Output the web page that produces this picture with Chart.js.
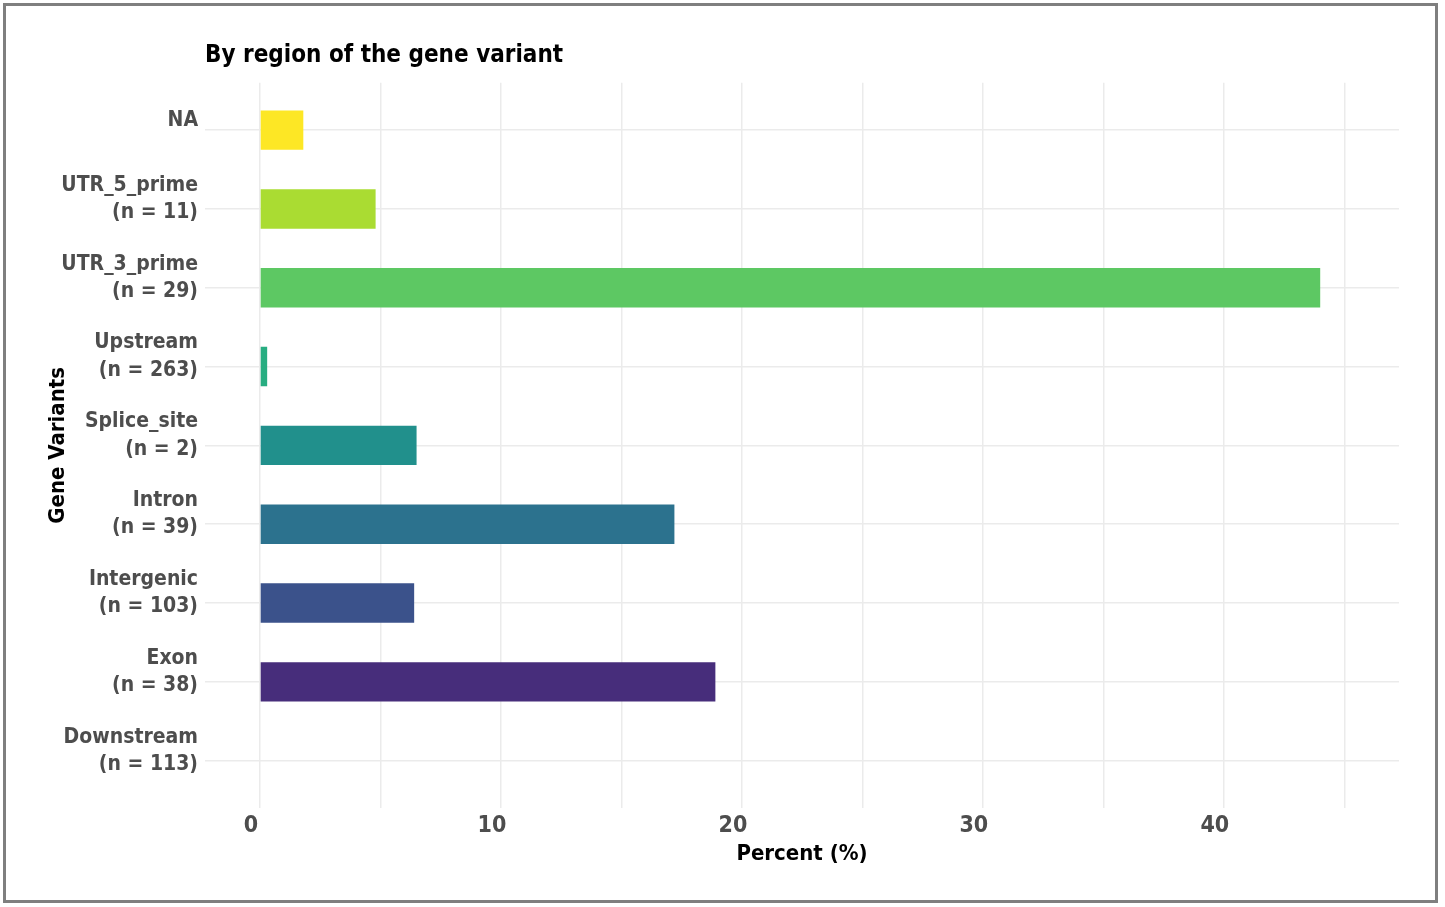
<!DOCTYPE html>
<html>
<head>
<meta charset="utf-8">
<script src="https://cdn.jsdelivr.net/npm/chart.js@4.4.0/dist/chart.umd.min.js"></script>
<style>
  html, body { margin: 0; padding: 0; background: #fff; }
  #frame {
    position: absolute; left: 3px; top: 3px;
    width: 1429px; height: 894px;
    border: 3px solid #7f7f7f;
  }
  canvas { display: block; }
</style>
</head>
<body>
<div id="frame"><canvas id="regionChart" width="1429" height="894"></canvas></div>
<script>
// Gene variant regions, top to bottom as drawn
const regions = ["NA", "UTR_5_prime", "UTR_3_prime", "Upstream", "Splice_site", "Intron", "Intergenic", "Exon", "Downstream"];
const counts = [null, 11, 29, 263, 2, 39, 103, 38, 113];
// Percent of variants per region
const percents = [1.8, 4.8, 44.0, 0.3, 6.5, 17.2, 6.4, 18.9, 0];
// viridis palette, one per region
const barColors = ["#FDE725", "#AADC32", "#5DC863", "#27AD81", "#21908C", "#2C728E", "#3B528B", "#472D7B", "#440154"];
// x grid positions (labels only on multiples of 10)
const xTicks = [0, 5, 10, 15, 20, 25, 30, 35, 40, 45];

const fontName = "'Liberation Sans Narrow', 'DejaVu Sans Condensed', 'Liberation Sans', sans-serif";

// labels like "Intron\n(n = 39)"
const yLabels = regions.map((r, i) => counts[i] === null ? r : [r, "(n = " + counts[i] + ")"]);

const ctx = document.getElementById("regionChart").getContext("2d");
const regionChart = new Chart(ctx, {
    type: "bar",
    data: {
        datasets: [{
            data: percents.map((v, i) => ({ x: v, y: i })),
            backgroundColor: barColors,
            borderWidth: 0,
            barPercentage: 0.5,
            categoryPercentage: 1.0,
        }],
    },
    options: {
        indexAxis: "y",
        responsive: false,
        animation: false,
        layout: { padding: { left: 0, right: 36, top: 0, bottom: 12 } },
        plugins: {
            legend: { display: false },
            tooltip: { enabled: false },
            title: {
                display: true,
                text: "By region of the gene variant",
                align: "start",
                fullSize: false,
                color: "#000",
                font: { family: fontName, size: 24, weight: "bold" },
                padding: { top: 35, bottom: 13 },
            },
        },
        scales: {
            x: {
                type: "linear",
                min: -2.28,
                max: 47.27,
                afterBuildTicks: (scale) => { scale.ticks = xTicks.map(v => ({ value: v })); },
                afterFit: (scale) => { scale.height = 80; },
                border: { display: false },
                grid: { color: "#ebebeb", lineWidth: 1.5, drawTicks: false },
                ticks: {
                    color: "#4d4d4d",
                    padding: 4,
                    labelOffset: -9,
                    maxRotation: 0,
                    autoSkip: false,
                    font: { family: fontName, size: 23, weight: "bold" },
                    callback: (v) => (v % 10 === 0 ? String(v) : ""),
                },
                title: {
                    display: true,
                    text: "Percent (%)",
                    color: "#000",
                    font: { family: fontName, size: 22, weight: "bold" },
                    padding: { top: 0, bottom: 21 },
                },
            },
            y: {
                type: "linear",
                reverse: true,
                offset: false,
                min: -0.6,
                max: regions.length - 1 + 0.6,
                afterBuildTicks: (scale) => { scale.ticks = regions.map((r, i) => ({ value: i })); },
                afterFit: (scale) => { scale.width = 199; },
                border: { display: false },
                grid: { color: "#ebebeb", lineWidth: 1.5, drawTicks: false, offset: false },
                ticks: {
                    color: "#4d4d4d",
                    padding: 7,
                    labelOffset: -10,
                    autoSkip: false,
                    font: { family: fontName, size: 21, weight: "bold", lineHeight: 1.3 },
                    callback: (v) => yLabels[v],
                },
                title: {
                    display: true,
                    text: "Gene Variants",
                    color: "#000",
                    font: { family: fontName, size: 22, weight: "bold" },
                    padding: { top: 39, bottom: 0 },
                },
            },
        },
    },
});
</script>
</body>
</html>
